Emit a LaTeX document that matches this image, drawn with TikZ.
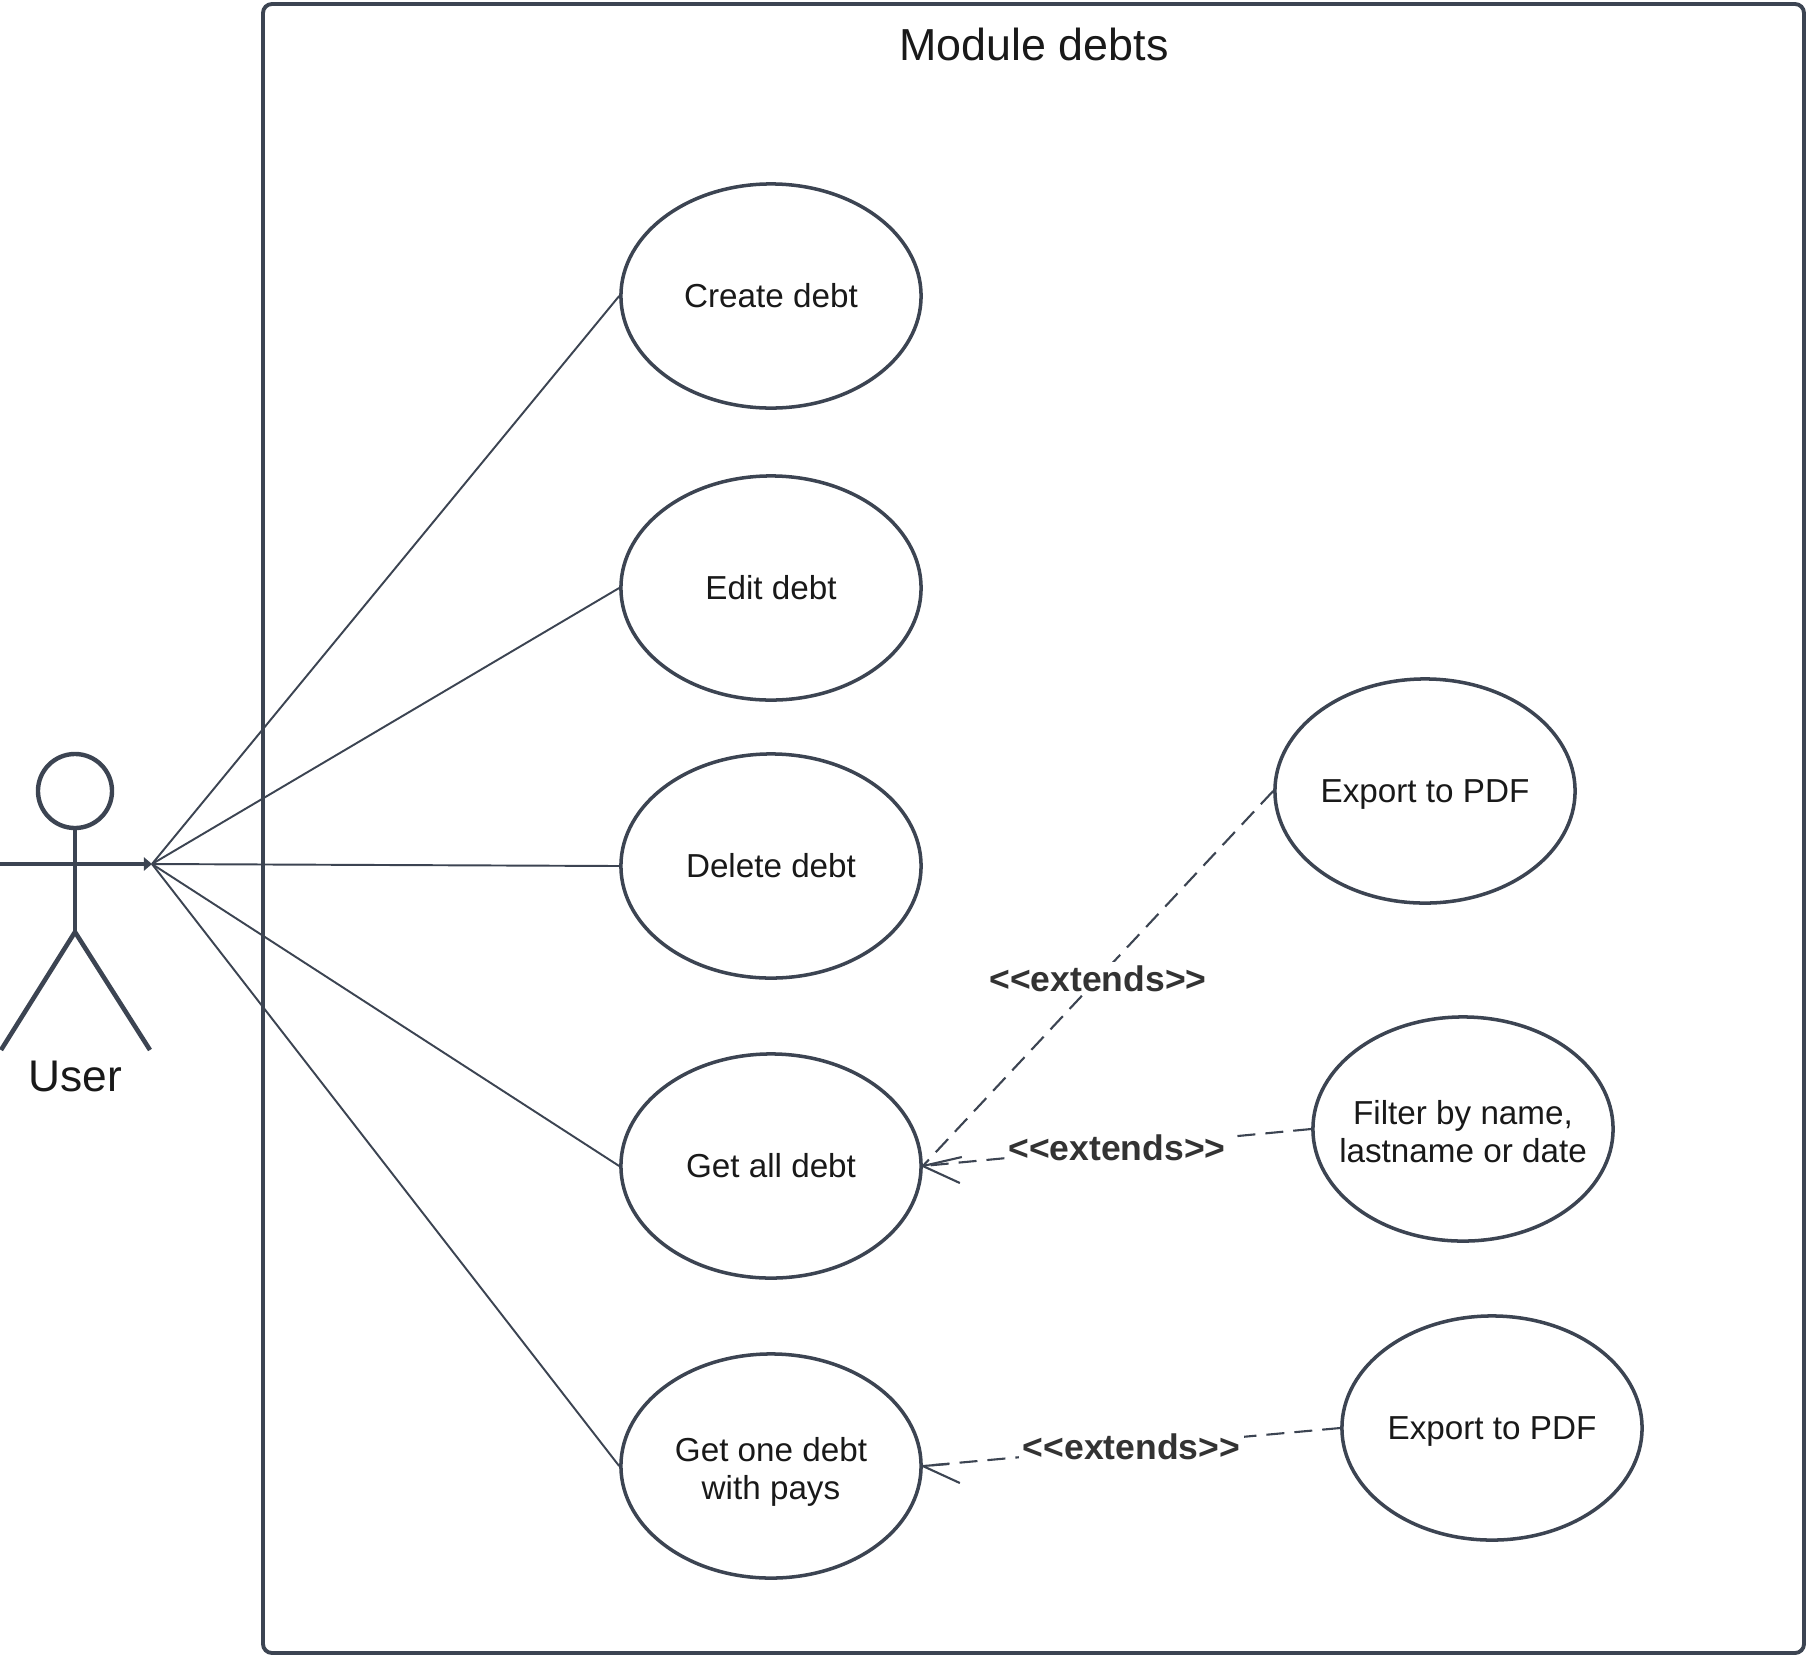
\documentclass[tikz,border=0pt]{standalone}
\usepackage{fontspec}
\setmainfont{Liberation Sans}
\usetikzlibrary{shapes.geometric,arrows.meta}

\definecolor{slateline}{HTML}{3C4452}
\definecolor{labelgray}{HTML}{333333}

\newcommand{\topgap}{\rule{0pt}{11.4pt}}

\tikzset{
    usecase/.style={draw=slateline,ellipse,line width=1pt,minimum width=3.0cm,minimum height=2.24cm,inner sep=-0.8cm,align=center,font=\fontsize{9.45}{10.8}\selectfont,text=black!90,execute at begin node=\rule{0pt}{9.6pt},execute at end node=\rule[-3.24pt]{0pt}{3.24pt}},
    actorline/.style={draw=slateline,line width=1.3pt},
    assoc/.style={draw=slateline,line width=0.55pt},
    extendline/.style={draw=slateline,line width=0.6pt,dash pattern=on 0.18cm off 0.10cm},
    barb/.style={draw=slateline,line width=0.6pt},
    extendlabel/.style={fill=white,inner sep=1pt,font=\fontsize{10.1}{12}\selectfont\bfseries,text=labelgray}
}

\begin{document}
\begin{tikzpicture}[x=0.01cm,y=-0.01cm]

        \useasboundingbox (0,0) rectangle (1806,1654);

        % System boundary
        \draw[draw=slateline,line width=1.1pt,rounded corners=0.09cm] (263,4) rectangle (1804,1653);
        \node[font=\fontsize{12.75}{14}\selectfont,text=black!90] (moduletitle) at (1034,44) {Module debts};

        % Actor
        \node[draw=slateline,line width=1.25pt,circle,minimum size=0.74cm,inner sep=0pt] (userhead) at (75,791) {};
        \coordinate (userhip) at (75,932);
        \coordinate (userhand) at (152,864);
        \draw[actorline] (userhead.south) -- (userhip);
        \draw[actorline,-{Triangle[length=0.08cm,width=0.13cm]}] (0,864) -- (userhand);
        \draw[actorline] (1,1050) -- (userhip) -- (150,1050);
        \node[font=\fontsize{12.6}{14}\selectfont,text=black!90] (userlabel) at (75,1076) {User};

        % Use cases of the module
        \node[usecase] (createdebt) at (771,296) {Create debt};
        \node[usecase] (editdebt) at (771,588) {Edit debt};
        \node[usecase] (deletedebt) at (771,866) {Delete debt};
        \node[usecase] (getall) at (771,1166) {Get all debt};
        \node[usecase] (getone) at (771,1466) {\topgap Get one debt\\with pays};

        % Extensions
        \node[usecase] (exportall) at (1425,791) {Export to PDF};
        \node[usecase] (filterall) at (1463,1129) {\topgap Filter by name,\\lastname or date};
        \node[usecase] (exportone) at (1492,1428) {Export to PDF};

        % Actor to use cases
        \draw[assoc] (userhand) -- (createdebt.west);
        \draw[assoc] (userhand) -- (editdebt.west);
        \draw[assoc] (userhand) -- (deletedebt.west);
        \draw[assoc] (userhand) -- (getall.west);
        \draw[assoc] (userhand) -- (getone.west);

        % Dashed extends connectors, label sits on the middle
        \draw[extendline] (exportall.west) -- (getall.east) node[midway,extendlabel] (extendsexport) {<{}<extends>{}>};
        \draw[extendline] (filterall.west) -- (getall.east) node[midway,extendlabel] (extendsfilter) {<{}<extends>{}>};
        \draw[extendline] (exportone.west) -- (getone.east) node[midway,extendlabel] (extendsone) {<{}<extends>{}>};

        % Open heads, drawn by hand since the barbs are not even
        \draw[barb] (getall.east) -- ++(39,-9);
        \draw[barb] (getall.east) -- ++(37,17);
        \draw[barb] (getone.east) -- ++(26,-2);
        \draw[barb] (getone.east) -- ++(37,17);

\end{tikzpicture}
\end{document}
